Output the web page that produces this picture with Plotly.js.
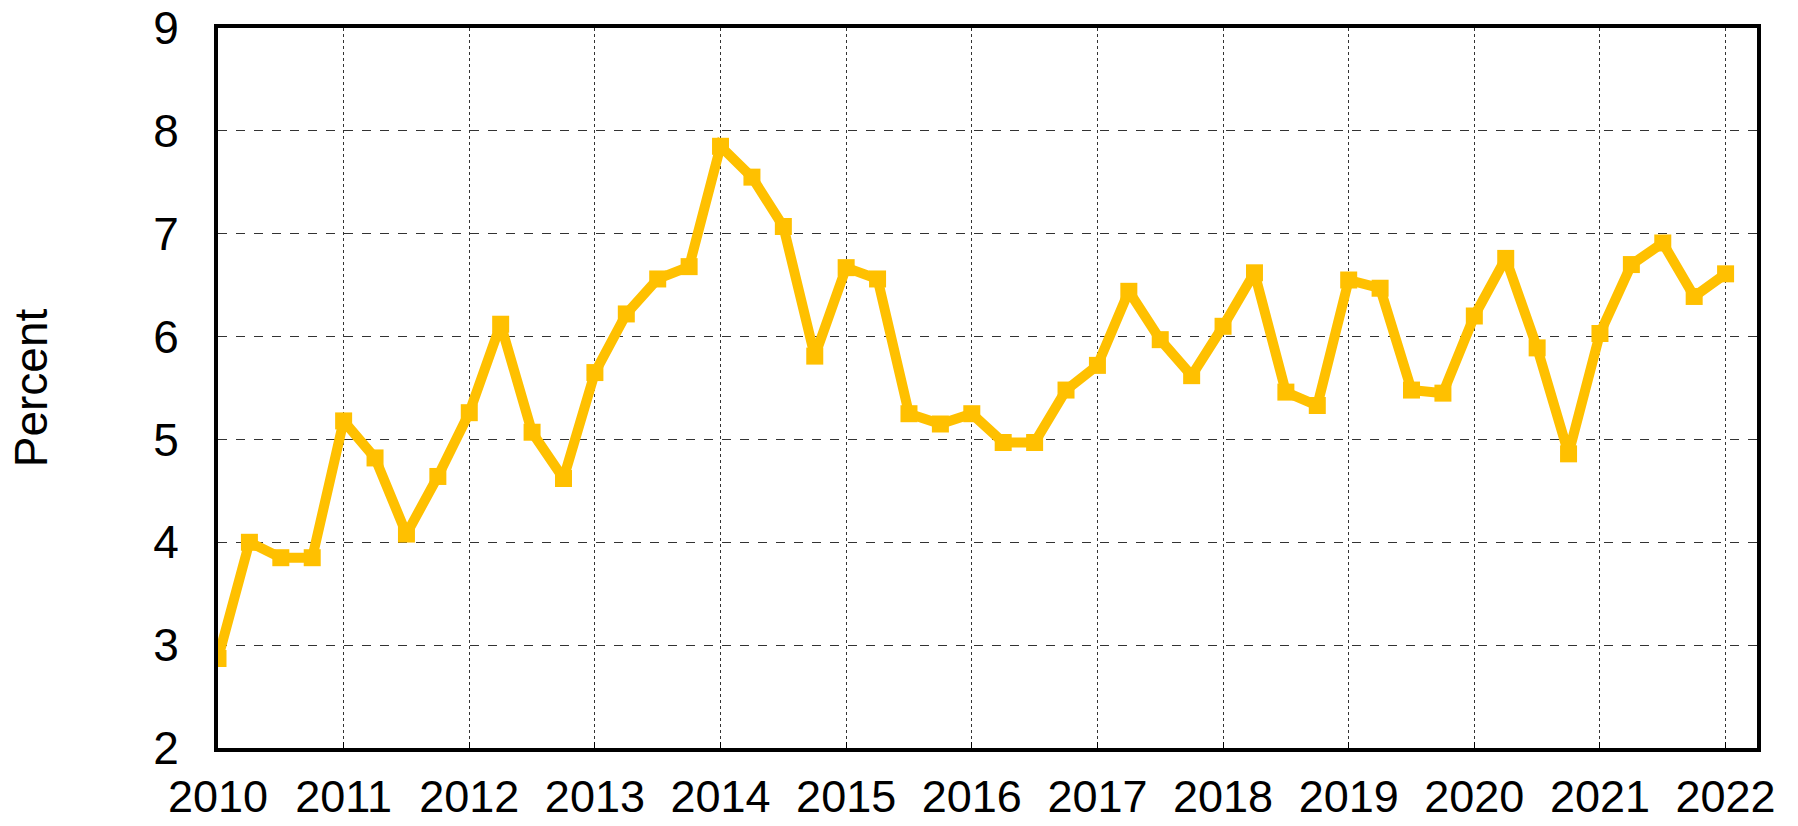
<!DOCTYPE html>
<html>
<head>
<meta charset="utf-8">
<script src="https://cdn.plot.ly/plotly-3.0.1.min.js"></script>
<style>html,body{margin:0;padding:0;background:#fff;}#chart{width:1798px;height:826px;}</style>
</head>
<body>
<div id="chart"></div>
<script>
const quarters = [
  2010.00, 2010.25, 2010.50, 2010.75,
  2011.00, 2011.25, 2011.50, 2011.75,
  2012.00, 2012.25, 2012.50, 2012.75,
  2013.00, 2013.25, 2013.50, 2013.75,
  2014.00, 2014.25, 2014.50, 2014.75,
  2015.00, 2015.25, 2015.50, 2015.75,
  2016.00, 2016.25, 2016.50, 2016.75,
  2017.00, 2017.25, 2017.50, 2017.75,
  2018.00, 2018.25, 2018.50, 2018.75,
  2019.00, 2019.25, 2019.50, 2019.75,
  2020.00, 2020.25, 2020.50, 2020.75,
  2021.00, 2021.25, 2021.50, 2021.75,
  2022.00
];
const percent = [
  2.87, 4.00, 3.85, 3.85,
  5.18, 4.82, 4.08, 4.64,
  5.26, 6.12, 5.07, 4.62,
  5.65, 6.22, 6.56, 6.68,
  7.85, 7.55, 7.07, 5.81,
  6.67, 6.56, 5.25, 5.15,
  5.25, 4.97, 4.97, 5.48,
  5.72, 6.44, 5.97, 5.62,
  6.10, 6.62, 5.46, 5.33,
  6.55, 6.47, 5.48, 5.45,
  6.20, 6.76, 5.89, 4.86,
  6.03, 6.70, 6.91, 6.39,
  6.61
];
const yearTicks = [2010, 2011, 2012, 2013, 2014, 2015, 2016, 2017, 2018, 2019, 2020, 2021, 2022];
const yTicks = [2, 3, 4, 5, 6, 7, 8, 9];
const yTitle = "Percent";

const font = "Liberation Sans, Arial, sans-serif";

Plotly.newPlot("chart", [{
  x: quarters,
  y: percent,
  type: "scatter",
  mode: "lines+markers",
  line: {color: "#FFC000", width: 10},
  marker: {symbol: "square", size: 17, color: "#FFC000"},
  hoverinfo: "x+y"
}], {
  width: 1798,
  height: 826,
  margin: {l: 218, r: 41, t: 28, b: 78},
  paper_bgcolor: "#fff",
  plot_bgcolor: "#fff",
  showlegend: false,
  font: {family: font, size: 45, color: "#000"},
  xaxis: {
    range: [2010, 2022.25],
    tickvals: yearTicks,
    ticktext: yearTicks.map(String),
    ticks: "inside",
    ticklen: 6,
    tickcolor: "#000",
    tickwidth: 1,
    ticklabelstandoff: 6,
    showgrid: true,
    gridcolor: "#333",
    gridwidth: 1,
    griddash: "dot",
    showline: true,
    linecolor: "#000",
    linewidth: 4,
    mirror: true,
    zeroline: false,
    tickfont: {family: font, size: 45, color: "#000"}
  },
  yaxis: {
    range: [2, 9],
    tickvals: yTicks,
    ticks: "",
    ticklabelstandoff: 26,
    showgrid: true,
    gridcolor: "#333",
    gridwidth: 1,
    griddash: "dash",
    showline: true,
    linecolor: "#000",
    linewidth: 4,
    mirror: true,
    zeroline: false,
    tickfont: {family: font, size: 46, color: "#000"},
    title: {text: yTitle, font: {family: font, size: 46, color: "#000"}, standoff: 92}
  }
}, {displayModeBar: false, staticPlot: true});
</script>
</body>
</html>
